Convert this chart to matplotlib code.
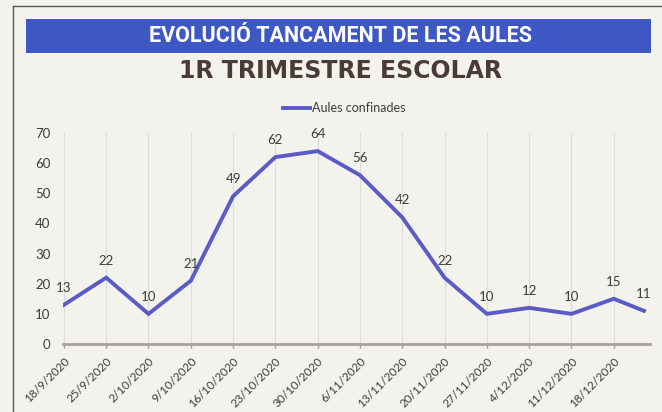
import datetime as dt
import matplotlib
matplotlib.use('Agg')
import matplotlib.pyplot as plt
import matplotlib.dates as mdates
from matplotlib.patches import Rectangle
from matplotlib.lines import Line2D

# weekly dates of the count (last one is a few days after 18/12)
dates = [dt.date(2020, 9, 18), dt.date(2020, 9, 25), dt.date(2020, 10, 2), dt.date(2020, 10, 9),
         dt.date(2020, 10, 16), dt.date(2020, 10, 23), dt.date(2020, 10, 30), dt.date(2020, 11, 6),
         dt.date(2020, 11, 13), dt.date(2020, 11, 20), dt.date(2020, 11, 27), dt.date(2020, 12, 4),
         dt.date(2020, 12, 11), dt.date(2020, 12, 18), dt.date(2020, 12, 23)]
aules = [13, 22, 10, 21, 49, 62, 64, 56, 42, 22, 10, 12, 10, 15, 11]
tick_dates = dates[:14]
tick_labels = ['18/9/2020', '25/9/2020', '2/10/2020', '9/10/2020', '16/10/2020', '23/10/2020',
               '30/10/2020', '6/11/2020', '13/11/2020', '20/11/2020', '27/11/2020', '4/12/2020',
               '11/12/2020', '18/12/2020']
yticks = [0, 10, 20, 30, 40, 50, 60, 70]

paper = '#f3f2ec'
line_col = '#5a5bc6'
banner_col = '#3d57c4'
txt = '#3c3c3c'

plt.rcParams['font.family'] = ['Lato', 'DejaVu Sans']

fig = plt.figure(figsize=(6.62, 4.12), dpi=100, facecolor=paper)
W, H = 662, 412

def fx(px):
    return px / W

def fy(py):
    return 1 - py / H

# outer frame of the newspaper box
fig.add_artist(Line2D([fx(12.5), fx(12.5)], [fy(6), 0], color='#555555', lw=1))
fig.add_artist(Line2D([fx(12.5), 1], [fy(6), fy(6)], color='#555555', lw=1))

# blue banner
fig.add_artist(Rectangle((fx(26), fy(53)), fx(651) - fx(26), fy(19) - fy(53),
                         facecolor=banner_col, edgecolor='none'))
fig.text(fx(340), fy(35.5), 'EVOLUCIÓ TANCAMENT DE LES AULES', color='white',
         fontsize=15.5, fontweight='bold', ha='center', va='center',
         family=['Roboto', 'DejaVu Sans'])
fig.text(fx(340), fy(71.5), '1R TRIMESTRE ESCOLAR', color='#4b3b36',
         fontsize=17, fontweight='bold', ha='center', va='center',
         family=['DejaVu Sans'])

ax = fig.add_axes([fx(63), fy(344), fx(650) - fx(63), fy(133) - fy(344)])
ax.set_facecolor('none')

ax.plot(dates, aules, color=line_col, lw=2.8, solid_joinstyle='miter', label='Aules confinades')
for d, v in zip(dates, aules):
    ax.annotate(str(v), (d, v), xytext=(0, 8), textcoords='offset points',
                ha='center', va='bottom', fontsize=9.5, color=txt)

ax.set_ylim(0, 70)
ax.set_yticks(yticks)
ax.set_xlim(mdates.date2num(dates[0]) - 0.15, mdates.date2num(dates[0]) + 97)
ax.set_xticks(tick_dates)
ax.set_xticklabels(tick_labels, rotation=45, ha='right', va='top', rotation_mode='anchor',
                   fontsize=8.5, color=txt)
ax.tick_params(axis='y', length=0, pad=9, labelsize=9.5, labelcolor=txt)
ax.tick_params(axis='x', length=3, width=1, color='#a09a9a', pad=5.5)
ax.grid(axis='x', color='#dedcd8', lw=0.8)
for s in ['top', 'right', 'left']:
    ax.spines[s].set_visible(False)
ax.spines['bottom'].set_color('#a8a0a0')
ax.spines['bottom'].set_linewidth(2)

leg = fig.legend(loc='center', bbox_to_anchor=(fx(344), fy(108)), frameon=False,
                 fontsize=9, handlelength=2.2, handletextpad=0.1)
for t in leg.get_texts():
    t.set_color(txt)

fig.savefig('out.png', dpi=100, facecolor=paper)
